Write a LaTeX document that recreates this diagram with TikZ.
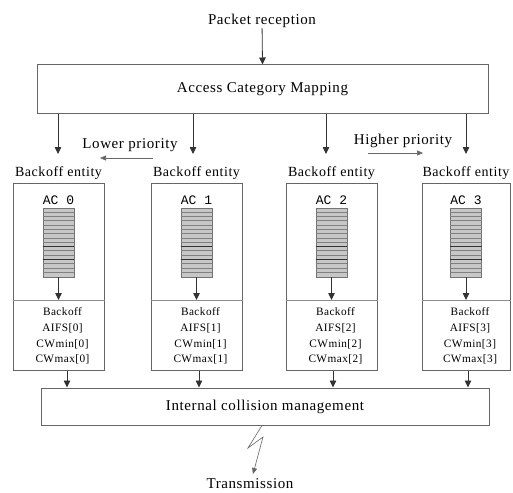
\documentclass[tikz,border=0pt]{standalone}
\usepackage{fontspec}
\setmainfont{Liberation Serif}[LetterSpace=4]
\newfontfamily\acfont{Liberation Mono}
\usetikzlibrary{arrows.meta}
\begin{document}
\begin{tikzpicture}[x=1pt,y=-1pt,
  box/.style={draw=black!60, line width=1pt, inner sep=0pt},
  arr/.style={-{Triangle[length=7pt,width=6.5pt]}, line width=0.8pt, draw=black!80},
  thinarr/.style={-{Triangle[length=6pt,width=5pt]}, line width=0.6pt, draw=black!60},
  lbl/.style={font=\fontsize{15}{17}\selectfont, inner sep=0pt},
  entl/.style={font=\fontsize{14}{16}\selectfont, inner sep=0pt},
  acl/.style={font=\acfont\fontsize{13}{15}\selectfont, inner sep=0pt},
  params/.style={font=\fontsize{11.3}{15.7}\selectfont, align=center, inner sep=0pt},
  queue/.style={draw=black!55, fill=black!22, line width=0.6pt, inner sep=0pt, minimum width=31pt, minimum height=69pt},
  divider/.style={draw=black!45, line width=0.7pt},
]
\useasboundingbox (0,0) rectangle (513,492);
\fill[white] (0,0) rectangle (513,492);

\node[lbl] (pr) at (262,21) {Packet reception};
\node[box, lbl, minimum width=451pt, minimum height=48pt] (acm) at (262.5,89) {Access Category Mapping};
\draw[arr] (pr) -- (acm.north);

% priority hints
\node[lbl] (lp) at (130,145) {Lower priority};
\coordinate (lps) at (153,158);
\coordinate (lpe) at (100,158);
\draw[thinarr] (lps) -- (lpe);
\node[lbl] (hp) at (403,141) {Higher priority};
\coordinate (hps) at (368,153);
\coordinate (hpe) at (423,153);
\draw[thinarr] (hps) -- (hpe);

% internal collision management
\node[box, lbl, minimum width=448pt, minimum height=37pt] (icm) at (265,406.5) {Internal collision management};

% backoff entities
\foreach \i/\cx/\w/\ax/\bx in {0/58.5/91/58/67, 1/196.5/91/193/199, 2/331.5/91/326/333, 3/466/88/466/468}{
  \node[entl] (b\i) at (\cx,173) {Backoff entity};
  \node[box, minimum width=\w pt, minimum height=187pt] (e\i) at (\cx,276.5) {};
  \coordinate (t\i) at (\ax,154);
  \draw[arr] (acm.south -| t\i) -- (t\i);
  \node[acl] (ac\i) at (\cx,200) {AC \i};
  \node[queue] (q\i) at (\cx,242.5) {};
  \foreach \k in {1,...,15}{
    \draw[black!50, line width=0.5pt] ([yshift=-\k*4.3pt]q\i.north west) -- ([yshift=-\k*4.3pt]q\i.north east);
  }
  \draw[black!80, line width=0.7pt] ([yshift=-9*4.3pt]q\i.north west) -- ([yshift=-9*4.3pt]q\i.north east);
  \draw[black!80, line width=0.7pt] ([yshift=-12*4.3pt]q\i.north west) -- ([yshift=-12*4.3pt]q\i.north east);
  \coordinate (d\i) at (\cx,300);
  \draw[divider] (e\i.west |- d\i) -- (e\i.east |- d\i);
  \draw[arr] (q\i.south) -- (d\i);
  \node[params] (p\i) at ([xshift=4pt]\cx,336) {Backoff\\AIFS[\i]\\CWmin[\i]\\CWmax[\i]};
  \coordinate (o\i) at (\bx,0);
  \draw[arr] (e\i.south -| o\i) -- (icm.north -| o\i);
}

% transmission
\node[lbl] (tr) at (250,484) {Transmission};
\coordinate (l0) at (262,0);
\coordinate (l1) at (248,448);
\coordinate (l2) at (263,437);
\coordinate (l3) at (253,474);
\draw[thinarr] (icm.south -| l0) -- (l1) -- (l2) -- (l3);
\end{tikzpicture}
\end{document}
